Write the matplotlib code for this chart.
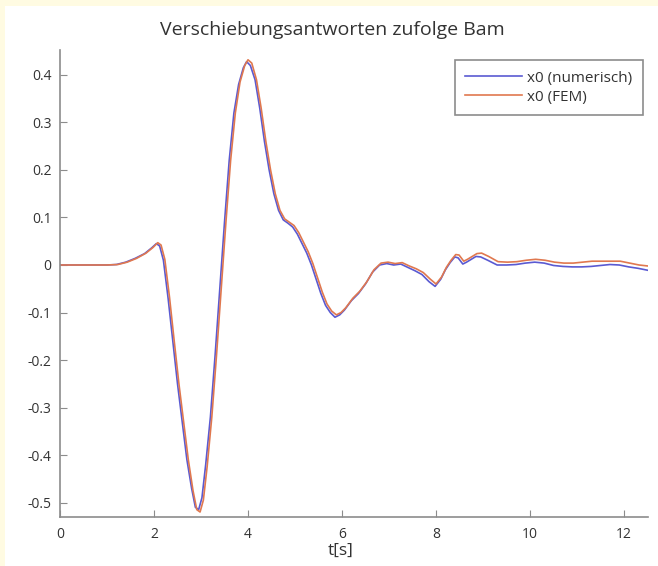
import numpy as np
import matplotlib
matplotlib.use("Agg")
import matplotlib.pyplot as plt
from matplotlib.patches import Rectangle

# values
t_num = [0, 1.0, 1.2, 1.4, 1.6, 1.8, 1.95, 2.05, 2.12, 2.2, 2.3, 2.4, 2.5, 2.6, 2.7, 2.8,
         2.88, 2.95, 3.02, 3.1, 3.2, 3.3, 3.4, 3.5, 3.6, 3.7, 3.8, 3.9, 3.97, 4.05, 4.15,
         4.25, 4.35, 4.45, 4.55, 4.65, 4.75, 4.85, 4.95, 5.05, 5.15, 5.25, 5.35, 5.45, 5.55,
         5.65, 5.75, 5.85, 5.95, 6.05, 6.2, 6.35, 6.5, 6.65, 6.8, 6.95, 7.1, 7.25, 7.4, 7.55,
         7.7, 7.85, 7.98, 8.1, 8.2, 8.3, 8.4, 8.47, 8.57, 8.65, 8.75, 8.85, 8.95, 9.1, 9.3,
         9.5, 9.7, 9.9, 10.1, 10.3, 10.5, 10.7, 10.9, 11.1, 11.3, 11.5, 11.7, 11.9, 12.1,
         12.3, 12.5]
x_num = [0, 0, 0.001, 0.006, 0.014, 0.024, 0.036, 0.045, 0.04, 0.01, -0.07, -0.16, -0.25,
         -0.33, -0.41, -0.47, -0.51, -0.515, -0.49, -0.42, -0.32, -0.19, -0.05, 0.09, 0.22,
         0.32, 0.38, 0.415, 0.428, 0.42, 0.39, 0.33, 0.26, 0.2, 0.15, 0.115, 0.095, 0.088,
         0.08, 0.065, 0.045, 0.025, 0.0, -0.03, -0.06, -0.085, -0.1, -0.11, -0.105, -0.095,
         -0.075, -0.06, -0.04, -0.015, 0.0, 0.003, 0.0, 0.002, -0.005, -0.012, -0.02, -0.035,
         -0.045, -0.03, -0.01, 0.005, 0.017, 0.015, 0.002, 0.006, 0.012, 0.018, 0.017, 0.01,
         0.0, 0.0, 0.001, 0.004, 0.006, 0.004, -0.001, -0.003, -0.004, -0.004, -0.003, -0.001,
         0.001, 0.0, -0.004, -0.007, -0.011]

t_fem = [0, 1.0, 1.23, 1.43, 1.63, 1.83, 1.98, 2.08, 2.15, 2.23, 2.33, 2.43, 2.53, 2.63,
         2.73, 2.83, 2.91, 2.98, 3.05, 3.13, 3.23, 3.33, 3.43, 3.53, 3.63, 3.73, 3.83, 3.93,
         4.0, 4.08, 4.18, 4.28, 4.38, 4.48, 4.58, 4.68, 4.78, 4.88, 4.98, 5.08, 5.18, 5.28,
         5.38, 5.48, 5.58, 5.68, 5.78, 5.88, 5.98, 6.08, 6.23, 6.38, 6.53, 6.68, 6.83, 6.98,
         7.13, 7.28, 7.43, 7.58, 7.73, 7.88, 8.0, 8.12, 8.22, 8.32, 8.42, 8.49, 8.59, 8.67,
         8.77, 8.87, 8.97, 9.12, 9.32, 9.52, 9.72, 9.92, 10.12, 10.32, 10.52, 10.72, 10.92,
         11.12, 11.32, 11.52, 11.72, 11.92, 12.12, 12.32, 12.5]
x_fem = [0, 0, 0.001, 0.006, 0.014, 0.025, 0.037, 0.047, 0.042, 0.012, -0.068, -0.16,
         -0.25, -0.33, -0.41, -0.475, -0.515, -0.52, -0.495, -0.425, -0.32, -0.19, -0.05,
         0.09, 0.22, 0.32, 0.385, 0.42, 0.432, 0.425, 0.39, 0.33, 0.26, 0.2, 0.15, 0.115,
         0.097, 0.09, 0.083, 0.068, 0.048, 0.028, 0.003, -0.027, -0.057, -0.082, -0.097,
         -0.105, -0.1, -0.09, -0.07, -0.055, -0.035, -0.01, 0.004, 0.006, 0.003, 0.005,
         -0.002, -0.008, -0.016, -0.03, -0.04, -0.025, -0.005, 0.01, 0.022, 0.021, 0.008,
         0.012, 0.018, 0.024, 0.025, 0.018, 0.007, 0.006, 0.007, 0.01, 0.012, 0.01, 0.006,
         0.004, 0.004, 0.006, 0.008, 0.008, 0.008, 0.008, 0.004, 0.0, -0.002]

labels = ["x0 (numerisch)", "x0 (FEM)"]
colors = ["#5a5ad2", "#e0784f"]

plt.rcParams["font.family"] = ["Open Sans", "DejaVu Sans"]
txt = "#333333"

fig = plt.figure(figsize=(6.58, 5.66), dpi=100, facecolor="#fffbe2")
fig.patches.append(Rectangle((5 / 658, 0), 1, 1 - 6 / 566, transform=fig.transFigure,
                             facecolor="white", edgecolor="none", zorder=-10))
ax = fig.add_axes([60 / 658, 49 / 566, 588 / 658, 467 / 566])
ax.set_zorder(1)
ax.set_facecolor("white")

ax.plot(t_num, x_num, color=colors[0], lw=1.2, label=labels[0])
ax.plot(t_fem, x_fem, color=colors[1], lw=1.2, label=labels[1])

ax.set_xlim(0, 12.51)
ax.set_ylim(-0.5305, 0.4526)
ax.set_xticks(np.arange(0, 13, 2))
ax.set_yticks(np.round(np.arange(-0.5, 0.45, 0.1), 1))
ax.set_xticklabels([str(v) for v in range(0, 13, 2)])
ax.set_yticklabels(["-0.5", "-0.4", "-0.3", "-0.2", "-0.1", "0", "0.1", "0.2", "0.3", "0.4"])

for s in ["top", "right"]:
    ax.spines[s].set_visible(False)
for s in ["left", "bottom"]:
    ax.spines[s].set_color("#8c8c8c")
    ax.spines[s].set_linewidth(1.2)
ax.tick_params(direction="in", length=5, color="#8c8c8c", labelsize=10, labelcolor=txt)
ax.tick_params(axis="x", pad=7)
ax.tick_params(axis="y", pad=6)

fig.text(332 / 658, 1 - 30 / 566, "Verschiebungsantworten zufolge Bam", ha="center",
         va="center", fontsize=14, color=txt)
fig.text(341 / 658, 1 - 551 / 566, "t[s]", ha="center", va="center", fontsize=12.5, color=txt)

leg = ax.legend(loc="upper right", bbox_to_anchor=(643 / 658, 1 - 60 / 566),
                bbox_transform=fig.transFigure, fancybox=False, framealpha=1,
                edgecolor="#8c8c8c", fontsize=11, handlelength=3.7, borderpad=0.7,
                labelspacing=0.25, handletextpad=0.35, borderaxespad=0)
leg.get_frame().set_linewidth(1.2)
for t in leg.get_texts():
    t.set_color(txt)

fig.savefig("out.png", dpi=100, facecolor=fig.get_facecolor())
